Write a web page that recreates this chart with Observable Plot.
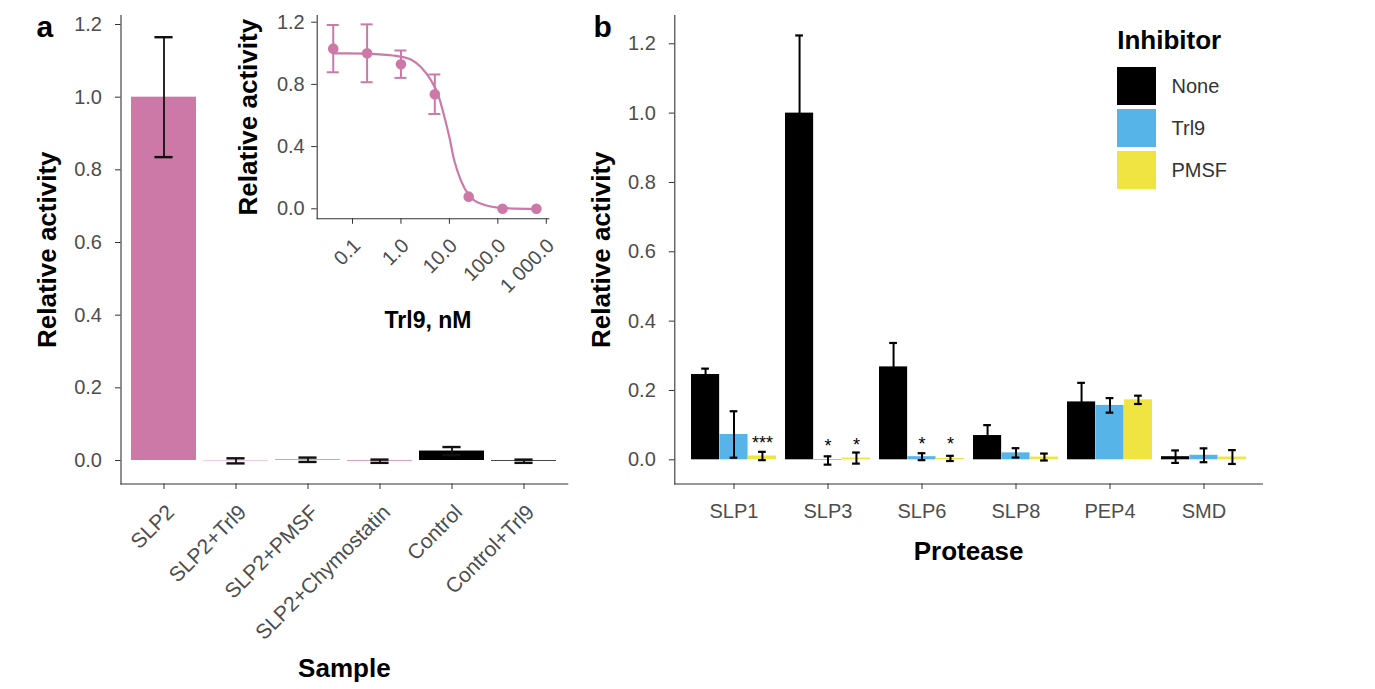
<!DOCTYPE html>
<html>
<head>
<meta charset="utf-8">
<script src="https://cdn.jsdelivr.net/npm/d3@7"></script>
<script src="https://cdn.jsdelivr.net/npm/@observablehq/plot@0.6"></script>
<style>
  html, body { margin: 0; padding: 0; background: #fff; overflow: hidden; }
  #fig { position: relative; width: 1375px; height: 689px; }
  #fig svg { position: absolute; left: 0; top: 0; }
</style>
</head>
<body>
<div id="fig"></div>
<script>
// ---------------- DATA ----------------
// Panel a: main bar chart
const samples = ["SLP2", "SLP2+Trl9", "SLP2+PMSF", "SLP2+Chymostatin", "Control", "Control+Trl9"];
const sampleValues = [1.0, -0.001, 0.002, -0.002, 0.026, -0.002];
const sampleErrors = [0.165, 0.007, 0.006, 0.0045, 0.011, 0.0045];

// Panel a inset: dose response
const doseNM = [0.04, 0.2, 1, 5, 25, 125, 625];
const doseActivity = [1.03, 1.0, 0.93, 0.737, 0.078, 0.0, 0.0];
const doseError = [0.152, 0.186, 0.088, 0.127, 0, 0, 0];
// fitted curve
const curveNM = [0.04, 0.2, 0.5, 1, 1.6, 2.6, 4.2, 5.75, 7.9, 10, 12.6, 17.4, 25, 45, 135, 625];
const curveActivity = [1.0, 0.998, 0.99, 0.978, 0.96, 0.91, 0.825, 0.74, 0.59, 0.46, 0.31, 0.18, 0.09, 0.032, 0.004, 0.0];
const insetTickValues = [0.1, 1, 10, 100, 1000];
const insetTickLabels = ["0.1", "1.0", "10.0", "100.0", "1 000.0"];

// Panel b: grouped bars
const proteases = ["SLP1", "SLP3", "SLP6", "SLP8", "PEP4", "SMD"];
const inhibitors = ["None", "Trl9", "PMSF"];
const noneValues = [0.246, 1.0, 0.268, 0.070, 0.167, 0.009];
const noneErrors = [0.017, 0.224, 0.069, 0.030, 0.055, 0.018];
const trl9Values = [0.073, -0.002, 0.009, 0.020, 0.157, 0.013];
const trl9Errors = [0.067, 0.012, 0.010, 0.0135, 0.021, 0.020];
const pmsfValues = [0.011, 0.005, 0.004, 0.008, 0.173, 0.008];
const pmsfErrors = [0.012, 0.016, 0.0075, 0.010, 0.012, 0.020];
// significance marks
const starProtease = ["SLP1", "SLP3", "SLP3", "SLP6", "SLP6"];
const starInhibitor = ["PMSF", "Trl9", "PMSF", "Trl9", "PMSF"];
const starLabel = ["***", "*", "*", "*", "*"];
const starY = [0.058, 0.050, 0.055, 0.057, 0.057];

const yTicksMain = [0, 0.2, 0.4, 0.6, 0.8, 1.0, 1.2];
const yTicksInset = [0, 0.4, 0.8, 1.2];

// ---------------- STYLE ----------------
const W = 1375, H = 689;
const FONT = "'Liberation Sans', Arial, Helvetica, sans-serif";
const PINK = "#CC79A7", BLUE = "#56B4E9", YELLOW = "#F0E442", BLACK = "#000000";
const AXIS = "#333333", TICKTXT = "#4d4d4d";
const common = {
  width: W, height: H,
  style: {background: "transparent", fontFamily: FONT, overflow: "visible"}
};

// ---------------- tables ----------------
const dataA = samples.map((s, i) => ({sample: s, value: sampleValues[i], err: sampleErrors[i]}));
const doseData = doseNM.map((x, i) => ({x, y: doseActivity[i], err: doseError[i]}));
const doseBars = doseData.filter(d => d.err > 0);
const curveData = curveNM.map((x, i) => ({x, y: curveActivity[i]}));
const valuesByInhibitor = {None: [noneValues, noneErrors], Trl9: [trl9Values, trl9Errors], PMSF: [pmsfValues, pmsfErrors]};
const dataB = inhibitors.flatMap(inh => proteases.map((p, i) => ({
  protease: p, inhibitor: inh, value: valuesByInhibitor[inh][0][i], err: valuesByInhibitor[inh][1][i]
})));
const stars = starProtease.map((p, i) => ({protease: p, inhibitor: starInhibitor[i], label: starLabel[i], y: starY[i]}));

const fig = document.getElementById("fig");

// ---------------- Panel a (main) ----------------
const aLeft = 120.5, aRight = 567.2, aTop = 15, aBottom = 483.5;
const aStep = (aRight - aLeft) / 6.2, aBand = 0.9 * aStep;
const capA = 18;
const plotA = Plot.plot({
  ...common,
  marginLeft: aLeft, marginRight: W - aRight, marginTop: aTop, marginBottom: H - aBottom,
  x: {type: "band", domain: samples, paddingInner: 0.1, paddingOuter: 0.15},
  y: {domain: [-0.0647, 1.2248]},
  marks: [
    Plot.barY(dataA, {x: "sample", y: "value", fill: d => d.sample.startsWith("Control") ? BLACK : PINK}),
    Plot.ruleX(dataA, {x: "sample", y1: d => d.value - d.err, y2: d => d.value + d.err, stroke: "#111", strokeWidth: 1.8}),
    Plot.tickY(dataA, {x: "sample", y: d => d.value + d.err, stroke: "#111", strokeWidth: 2.4, insetLeft: (aBand - capA) / 2, insetRight: (aBand - capA) / 2}),
    Plot.tickY(dataA, {x: "sample", y: d => d.value - d.err, stroke: "#111", strokeWidth: 2.4, insetLeft: (aBand - capA) / 2, insetRight: (aBand - capA) / 2}),
    Plot.frame({anchor: "left", stroke: AXIS, strokeWidth: 1.1}),
    Plot.frame({anchor: "bottom", stroke: AXIS, strokeWidth: 1.1}),
    Plot.axisY({ticks: yTicksMain, tickFormat: ".1f", tickSize: 5.5, tickPadding: 13.5, fontSize: 20, fill: TICKTXT, stroke: AXIS, label: null}),
    Plot.axisX({tickSize: 5.5, tickFormat: () => "", stroke: AXIS, label: null}),
    Plot.text(samples, {x: d => d, text: d => d, frameAnchor: "bottom", rotate: -45, textAnchor: "end", lineAnchor: "top", dx: 1, dy: 19, fontSize: 21, fill: TICKTXT}),
    Plot.text(["Relative activity"], {frameAnchor: "left", text: d => d, rotate: -90, textAnchor: "middle", lineAnchor: "middle", dx: -73.3, fontSize: 26, fontWeight: "bold", fill: "#000"}),
    Plot.text(["Sample"], {frameAnchor: "bottom", text: d => d, textAnchor: "middle", lineAnchor: "middle", dy: 184.5, fontSize: 26, fontWeight: "bold", fill: "#000"}),
    Plot.text(["a"], {frameAnchor: "top-left", text: d => d, textAnchor: "start", lineAnchor: "middle", dx: 36 - aLeft, dy: 12.1, fontSize: 30, fontWeight: "bold", fill: "#000"})
  ]
});
fig.appendChild(plotA);

// ---------------- Panel a (inset) ----------------
const iLeft = 316.7, iRight = 548.3, iTop = 15, iBottom = 218.3;
const plotInset = Plot.plot({
  ...common,
  marginLeft: iLeft, marginRight: W - iRight, marginTop: iTop, marginBottom: H - iBottom,
  x: {type: "log", domain: [0.01866, 1127]},
  y: {domain: [-0.0643, 1.2431]},
  marks: [
    Plot.line(curveData, {x: "x", y: "y", stroke: PINK, strokeWidth: 2.2, curve: "monotone-x"}),
    Plot.ruleX(doseBars, {x: "x", y1: d => d.y - d.err, y2: d => d.y + d.err, stroke: PINK, strokeWidth: 2}),
    Plot.ruleY(doseBars, {x1: "x", x2: "x", y: d => d.y + d.err, stroke: PINK, strokeWidth: 2, insetLeft: -6, insetRight: -6}),
    Plot.ruleY(doseBars, {x1: "x", x2: "x", y: d => d.y - d.err, stroke: PINK, strokeWidth: 2, insetLeft: -6, insetRight: -6}),
    Plot.dot(doseData, {x: "x", y: "y", r: 5.3, fill: PINK, stroke: "none"}),
    Plot.frame({anchor: "left", stroke: AXIS, strokeWidth: 1.1}),
    Plot.frame({anchor: "bottom", stroke: AXIS, strokeWidth: 1.1}),
    Plot.axisY({ticks: yTicksInset, tickFormat: ".1f", tickSize: 5.5, tickPadding: 7, fontSize: 20, fill: TICKTXT, stroke: AXIS, label: null}),
    Plot.axisX({ticks: insetTickValues, tickSize: 5.5, tickFormat: () => "", stroke: AXIS, label: null}),
    Plot.text(insetTickValues, {x: d => d, text: (d, i) => insetTickLabels[i], frameAnchor: "bottom", rotate: -45, textAnchor: "end", lineAnchor: "top", dx: -1, dy: 18, fontSize: 20, fill: TICKTXT}),
    Plot.text(["Relative activity"], {frameAnchor: "left", text: d => d, rotate: -90, textAnchor: "middle", lineAnchor: "middle", dx: -68.4, fontSize: 26, fontWeight: "bold", fill: "#000"}),
    Plot.text(["Trl9, nM"], {frameAnchor: "bottom", text: d => d, textAnchor: "middle", lineAnchor: "middle", dx: -5, dy: 102, fontSize: 23, fontWeight: "bold", fill: "#000"})
  ]
});
fig.appendChild(plotInset);

// ---------------- Panel b ----------------
const bLeft = 674.3, bRight = 1261.9, bTop = 15, bBottom = 483.5;
const bStep = (bRight - bLeft) / 6.2, bBand = 0.9 * bStep, third = bBand / 3;
const capB = 8;
const barColor = {None: BLACK, Trl9: BLUE, PMSF: YELLOW};
const groupMarks = inhibitors.flatMap((inh, j) => {
  const rows = dataB.filter(d => d.inhibitor === inh);
  const off = (j - 1) * third;
  return [
    Plot.barY(rows, {x: "protease", y: "value", fill: barColor[inh], insetLeft: j * third, insetRight: (2 - j) * third}),
    Plot.ruleX(rows, {x: "protease", y1: d => d.value - d.err, y2: d => d.value + d.err, dx: off, stroke: "#000", strokeWidth: 2}),
    Plot.tickY(rows, {x: "protease", y: d => d.value + d.err, dx: off, stroke: "#000", strokeWidth: 2.2, insetLeft: (bBand - capB) / 2, insetRight: (bBand - capB) / 2}),
    Plot.tickY(rows, {x: "protease", y: d => d.value - d.err, dx: off, stroke: "#000", strokeWidth: 2.2, insetLeft: (bBand - capB) / 2, insetRight: (bBand - capB) / 2}),
    Plot.text(stars.filter(s => s.inhibitor === inh), {x: "protease", y: "y", text: "label", dx: off, dy: 4, fontSize: 18, fill: "#000"})
  ];
});
const plotB = Plot.plot({
  ...common,
  marginLeft: bLeft, marginRight: W - bRight, marginTop: bTop, marginBottom: H - bBottom,
  x: {type: "band", domain: proteases, paddingInner: 0.1, paddingOuter: 0.15},
  y: {domain: [-0.0698, 1.2816]},
  marks: [
    ...groupMarks,
    Plot.frame({anchor: "left", stroke: AXIS, strokeWidth: 1.1}),
    Plot.frame({anchor: "bottom", stroke: AXIS, strokeWidth: 1.1}),
    Plot.axisY({ticks: yTicksMain, tickFormat: ".1f", tickSize: 5.5, tickPadding: 13.5, fontSize: 20, fill: TICKTXT, stroke: AXIS, label: null}),
    Plot.axisX({tickSize: 5.5, tickPadding: 14.3, fontSize: 20, fill: TICKTXT, stroke: AXIS, label: null}),
    Plot.text(["Relative activity"], {frameAnchor: "left", text: d => d, rotate: -90, textAnchor: "middle", lineAnchor: "middle", dx: -73.3, fontSize: 26, fontWeight: "bold", fill: "#000"}),
    Plot.text(["Protease"], {frameAnchor: "bottom", text: d => d, textAnchor: "middle", lineAnchor: "middle", dy: 67.5, fontSize: 26, fontWeight: "bold", fill: "#000"}),
    Plot.text(["b"], {frameAnchor: "top-left", text: d => d, textAnchor: "start", lineAnchor: "middle", dx: 593 - bLeft, dy: 12.1, fontSize: 30, fontWeight: "bold", fill: "#000"})
  ]
});
fig.appendChild(plotB);

// ---------------- Panel b legend ----------------
const lLeft = 1116.7, lRight = 1155.7, lTop = 66, lBottom = 190;
const plotLegend = Plot.plot({
  ...common,
  marginLeft: lLeft, marginRight: W - lRight, marginTop: lTop, marginBottom: H - lBottom,
  x: {type: "band", domain: ["key"], padding: 0, axis: null},
  y: {type: "band", domain: inhibitors, paddingInner: 0.1, paddingOuter: 0, axis: null},
  color: {domain: inhibitors, range: [BLACK, BLUE, YELLOW]},
  marks: [
    Plot.cell(inhibitors, {x: () => "key", y: d => d, fill: d => d}),
    Plot.text(inhibitors, {y: d => d, text: d => d, frameAnchor: "right", textAnchor: "start", dx: 15.3, fontSize: 20, fill: "#333"}),
    Plot.text(["Inhibitor"], {frameAnchor: "top-left", text: d => d, textAnchor: "start", lineAnchor: "middle", dy: -26, fontSize: 26, fontWeight: "bold", fill: "#000"})
  ]
});
fig.appendChild(plotLegend);
</script>
</body>
</html>
